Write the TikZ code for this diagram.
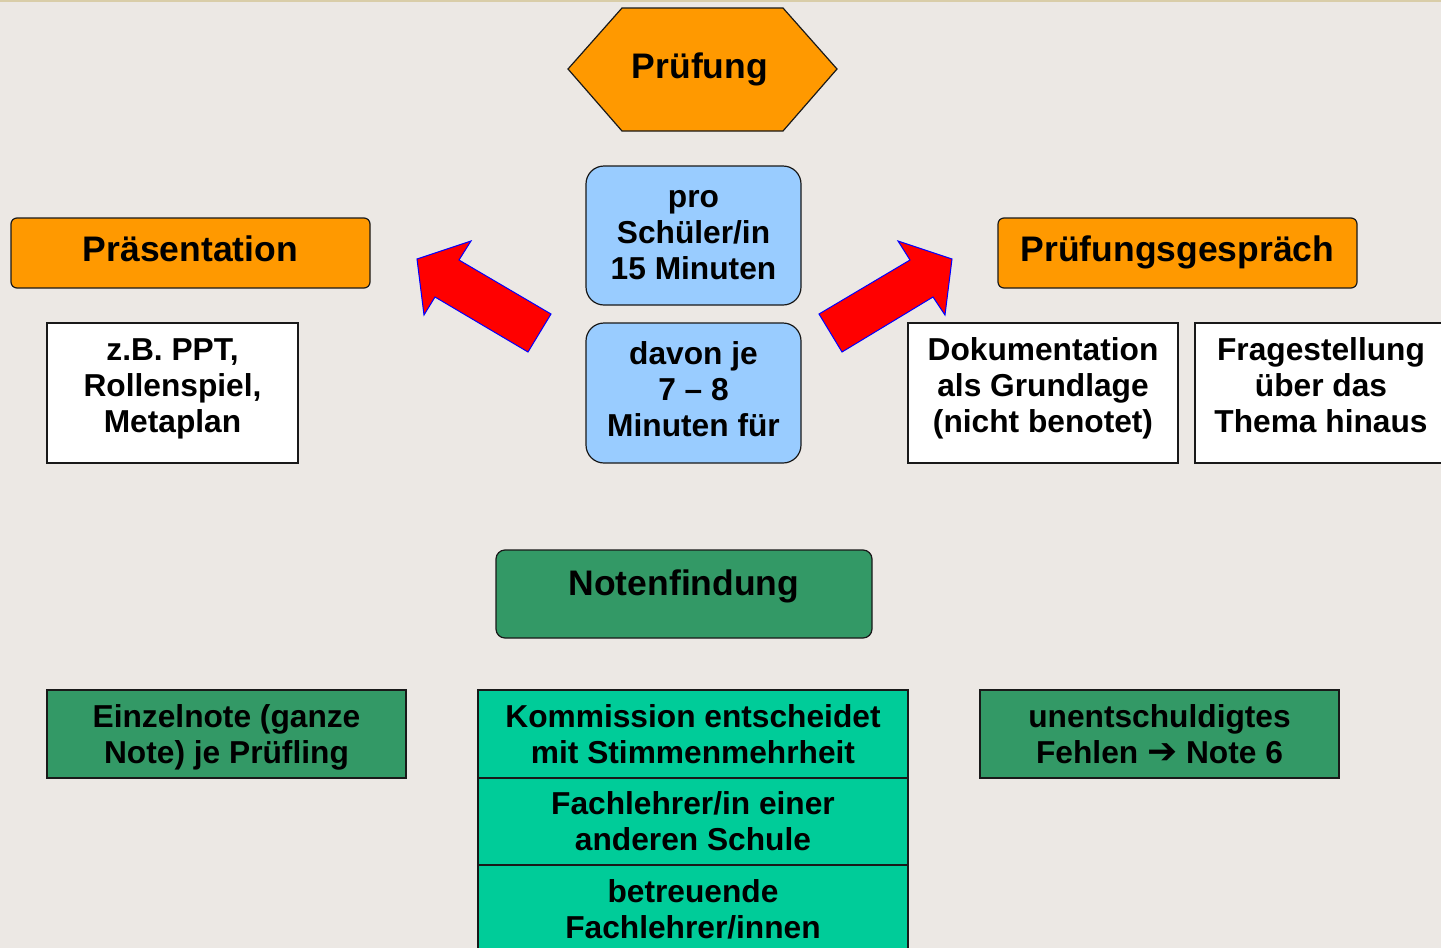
\documentclass[tikz,border=0pt]{standalone}
\usepackage{fontspec}
\setmainfont{Liberation Sans}
\newfontfamily\symfont{DejaVu Sans}
\definecolor{bgc}{HTML}{ECE8E4}
\definecolor{orangeA}{HTML}{FF9900}
\definecolor{blueA}{HTML}{99CCFF}
\definecolor{greenA}{HTML}{339966}
\definecolor{tealA}{HTML}{00CC99}
\definecolor{topline}{HTML}{D9CDA8}
\begin{document}
\begin{tikzpicture}[x=1pt,y=-1pt,
  box/.style={draw=black!90, line width=1.2pt, inner sep=0pt},
  txt/.style={font=\bfseries\fontsize{31.7}{36}\selectfont, align=center, inner sep=0pt},
  hd/.style={font=\bfseries\fontsize{35.5}{40}\selectfont, inner sep=0pt},
  redarrow/.style={fill=red, draw=blue, line width=1pt, line join=miter}]
\useasboundingbox (0,0) rectangle (1441,948);
\fill[bgc] (0,0) rectangle (1441,948);
\draw[topline, line width=2pt] (0,0.5) -- (1441,0.5);

% Pruefung hexagon
\draw[fill=orangeA, draw=black!90, line width=1.2pt] (568,69) -- (622,8) -- (783,8) -- (837,69) -- (783,131) -- (622,131) -- cycle;
\node[hd] (pruef) at (700,69) {Prüfung};

% Praesentation
\node[box, fill=orangeA, rounded corners=6pt, minimum width=359pt, minimum height=70pt] (praes) at (190.5,253) {};
\node[hd] (praesT) at (190.5,249) {Präsentation};
% Pruefungsgespraech
\node[box, fill=orangeA, rounded corners=6pt, minimum width=359pt, minimum height=70pt] (gespr) at (1177.5,253) {};
\node[hd] (gesprT) at (1177.5,252) {Prüfungsgespräch};

% blue boxes
\node[box, fill=blueA, rounded corners=18pt, minimum width=215pt, minimum height=139pt] (blue1) at (693.5,235.5) {};
\node[txt] (blue1T) at (693.5,235.5) {pro\\Schüler/in\\15 Minuten};
\node[box, fill=blueA, rounded corners=18pt, minimum width=215pt, minimum height=140pt] (blue2) at (693.5,393) {};
\node[txt] (blue2T) at (693.5,389) {davon je\\7 – 8\\Minuten für};

% white boxes
\node[box, fill=white, minimum width=251pt, minimum height=140pt] (w1) at (172.5,393) {};
\node[txt] (w1T) at (172.5,389) {z.B. PPT,\\Rollenspiel,\\Metaplan};
\node[box, fill=white, minimum width=270pt, minimum height=140pt] (w2) at (1043,393) {};
\node[txt] (w2T) at (1043,388) {Dokumentation\\als Grundlage\\(nicht benotet)};
\node[box, fill=white, minimum width=254pt, minimum height=140pt] (w3) at (1322,393) {};
\node[txt] (w3T) at (1321,385) {Fragestellung\\über das\\Thema hinaus};

% red arrows
\draw[redarrow] (417,259) -- (471,241) -- (459,260) -- (551,314) -- (528,352) -- (435,297) -- (424,315) -- cycle;
\draw[redarrow] (952,259) -- (898,241) -- (910,260) -- (819,314) -- (842,352) -- (933,297) -- (945,315) -- cycle;

% Notenfindung
\node[box, fill=greenA, rounded corners=9pt, minimum width=376pt, minimum height=88pt] (noten) at (684,594) {};
\node[hd] (notenT) at (684,586) {Notenfindung};

% bottom row
\node[box, fill=greenA, minimum width=359pt, minimum height=88pt] (einzel) at (226.5,734) {};
\node[txt] (einzelT) at (226.5,737) {Einzelnote (ganze\\Note) je Prüfling};
\node[box, fill=greenA, minimum width=359pt, minimum height=88pt] (unent) at (1159.5,734) {};
\node[txt] (unentT) at (1159.5,734) {unentschuldigtes\\Fehlen {\symfont\bfseries\fontsize{36}{36}\selectfont ➔} Note 6};

\node[box, fill=tealA, minimum width=430pt, minimum height=88pt] (komm) at (693,734) {};
\node[txt] (kommT) at (693,734) {Kommission entscheidet\\mit Stimmenmehrheit};
\node[box, fill=tealA, minimum width=430pt, minimum height=87pt] (fach) at (693,821.5) {};
\node[txt] (fachT) at (693,821.5) {Fachlehrer/in einer\\anderen Schule};
\node[box, fill=tealA, minimum width=430pt, minimum height=90pt] (betr) at (693,910) {};
\node[txt] (betrT) at (693,909) {betreuende\\Fachlehrer/innen};
\end{tikzpicture}
\end{document}
